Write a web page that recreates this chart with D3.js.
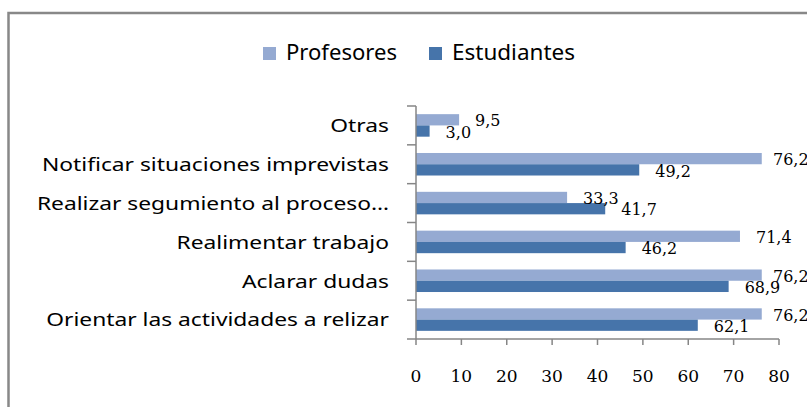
<!DOCTYPE html>
<html>
<head>
<meta charset="utf-8">
<script src="https://cdn.jsdelivr.net/npm/d3@7"></script>
<style>
  body { margin: 0; background: #fff; }
  svg { display: block; }
</style>
</head>
<body>
<script>
// Data
const categories = [
    "Otras",
    "Notificar situaciones imprevistas",
    "Realizar segumiento al proceso…",
    "Realimentar trabajo",
    "Aclarar dudas",
    "Orientar las actividades a relizar"
];
const seriesNames = ["Profesores", "Estudiantes"];
const profesores = [9.5, 76.2, 33.3, 71.4, 76.2, 76.2];
const estudiantes = [3.0, 49.2, 41.7, 46.2, 68.9, 62.1];
const xTicks = [0, 10, 20, 30, 40, 50, 60, 70, 80];

const colors = ["#95aad2", "#4674aa"];
const axisColor = "#868686";

const width = 807;
const height = 407;
const plot = { left: 416, right: 779, top: 106, bottom: 339 };

const svg = d3.select("body")
    .append("svg")
    .attr("width", width)
    .attr("height", height);

// Outer frame
svg.append("rect")
    .attr("x", 8.5)
    .attr("y", 13)
    .attr("width", width + 10)
    .attr("height", height + 10)
    .attr("fill", "none")
    .attr("stroke", "#888")
    .attr("stroke-width", 2.5);

// Scales
const x = d3.scaleLinear().domain([0, 80]).range([plot.left, plot.right]);
const y = d3.scaleBand().domain(categories).range([plot.top, plot.bottom])
    .paddingInner(0.42).paddingOuter(0.21);
const ySub = d3.scaleBand().domain(seriesNames).range([0, y.bandwidth()]);

const rows = categories.map((c, i) => ({ cat: c, values: [profesores[i], estudiantes[i]] }));

// Bars
const groups = svg.selectAll("g.row")
    .data(rows)
    .enter()
    .append("g")
    .attr("class", "row")
    .attr("transform", d => `translate(0,${y(d.cat)})`);

groups.selectAll("rect")
    .data(d => d.values.map((v, j) => ({ v, s: seriesNames[j], j })))
    .enter()
    .append("rect")
    .attr("x", x(0))
    .attr("y", d => ySub(d.s))
    .attr("width", d => x(d.v) - x(0))
    .attr("height", ySub.bandwidth())
    .attr("fill", d => colors[d.j]);

// Value labels (the ones near the right edge get pushed in, and clipped like the original)
groups.selectAll("text")
    .data(d => d.values.map((v, j) => ({ v, s: seriesNames[j] })))
    .enter()
    .append("text")
    .attr("x", d => Math.min(x(d.v) + 16, width - 34))
    .attr("y", d => ySub(d.s) + ySub.bandwidth() + 1)
    .attr("font-family", "DejaVu Serif")
    .attr("font-size", 16)
    .attr("fill", "#000")
    .text(d => d.v.toFixed(1).replace(".", ","));

// Y axis
svg.append("line")
    .attr("x1", plot.left).attr("x2", plot.left)
    .attr("y1", plot.top).attr("y2", plot.bottom)
    .attr("stroke", axisColor).attr("stroke-width", 1.5);

const boundaries = categories.map(c => y(c) - y.step() * y.paddingOuter()).concat([plot.bottom]);
svg.selectAll("line.ytick")
    .data(boundaries)
    .enter()
    .append("line")
    .attr("class", "ytick")
    .attr("x1", plot.left - 9).attr("x2", plot.left)
    .attr("y1", d => d).attr("y2", d => d)
    .attr("stroke", axisColor).attr("stroke-width", 1.5);

// category labels, stretched a bit wider like the source picture
svg.selectAll("text.ylab")
    .data(categories)
    .enter()
    .append("text")
    .attr("class", "ylab")
    .attr("transform", d => `translate(389,${y(d) + y.bandwidth() / 2}) scale(1.2,1)`)
    .attr("dy", "0.36em")
    .attr("text-anchor", "end")
    .attr("font-family", "Noto Sans")
    .attr("font-size", 19)
    .attr("fill", "#000")
    .text(d => d);

// X axis
svg.append("line")
    .attr("x1", plot.left).attr("x2", plot.right)
    .attr("y1", plot.bottom).attr("y2", plot.bottom)
    .attr("stroke", axisColor).attr("stroke-width", 1.5);

svg.selectAll("line.xtick")
    .data(xTicks)
    .enter()
    .append("line")
    .attr("class", "xtick")
    .attr("x1", d => x(d)).attr("x2", d => x(d))
    .attr("y1", plot.bottom).attr("y2", plot.bottom + 6)
    .attr("stroke", axisColor).attr("stroke-width", 1.5);

svg.selectAll("text.xlab")
    .data(xTicks)
    .enter()
    .append("text")
    .attr("class", "xlab")
    .attr("x", d => x(d))
    .attr("y", 382)
    .attr("text-anchor", "middle")
    .attr("font-family", "DejaVu Serif")
    .attr("font-size", 17)
    .attr("fill", "#000")
    .text(d => d);

// Legend
const legendX = [263, 429];
const legendW = [111, 123];
const legend = svg.selectAll("g.legend")
    .data(seriesNames)
    .enter()
    .append("g")
    .attr("class", "legend")
    .attr("transform", (d, i) => `translate(${legendX[i]},47)`);

legend.append("rect")
    .attr("width", 13)
    .attr("height", 13)
    .attr("fill", (d, i) => colors[i]);

legend.append("text")
    .attr("x", 23)
    .attr("y", 13)
    .attr("font-family", "Noto Sans")
    .attr("font-size", 22)
    .attr("textLength", (d, i) => legendW[i])
    .attr("lengthAdjust", "spacingAndGlyphs")
    .attr("fill", "#000")
    .text(d => d);
</script>
</body>
</html>
